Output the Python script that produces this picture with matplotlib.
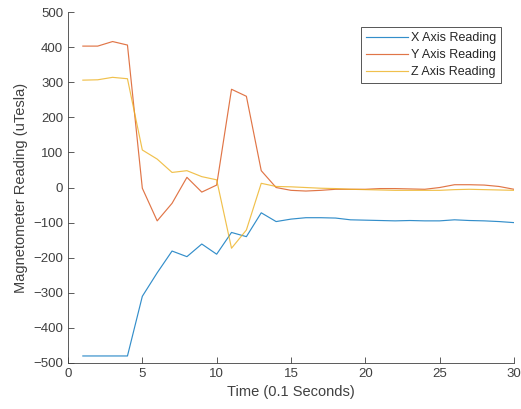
import matplotlib
matplotlib.use('Agg')
import matplotlib.pyplot as plt

plt.rcParams['font.family'] = ['Liberation Sans', 'DejaVu Sans']

# time steps (0.1 s)
t = list(range(1, 31))

x_reading = [-480, -480, -480, -480, -310, -243, -181, -197, -161, -190,
             -128, -140, -72, -97, -90, -86, -86, -87, -92, -93,
             -94, -95, -94, -95, -95, -92, -94, -95, -97, -100]
y_reading = [403, 403, 416, 406, -2, -95, -45, 29, -13, 7,
             280, 260, 48, 0, -8, -10, -8, -5, -5, -5,
             -3, -3, -4, -5, 0, 8, 8, 7, 3, -5]
z_reading = [306, 307, 314, 310, 107, 81, 43, 48, 31, 22,
             -173, -121, 12, 3, 2, 0, -2, -3, -5, -6,
             -7, -8, -8, -8, -8, -6, -5, -6, -7, -8]

fig = plt.figure(figsize=(5.21, 4.09), dpi=100)
ax = fig.add_axes([0.1305, 0.1125, 0.856, 0.858])

ax.plot(t, x_reading, color='#0072BD', lw=0.85, alpha=0.8, label='X Axis Reading')
ax.plot(t, y_reading, color='#D95319', lw=0.85, alpha=0.8, label='Y Axis Reading')
ax.plot(t, z_reading, color='#EDB120', lw=0.85, alpha=0.8, label='Z Axis Reading')

txt = '#404040'
ax.set_xlim(0, 30)
ax.set_ylim(-500, 500)
ax.set_xticks(range(0, 31, 5))
ax.set_yticks(range(-500, 501, 100))
ax.set_xlabel('Time (0.1 Seconds)', fontsize=10.5, color=txt)
ax.set_ylabel('Magnetometer Reading (uTesla)', fontsize=10.5, color=txt)

for side in ['top', 'right']:
    ax.spines[side].set_visible(False)
for side in ['left', 'bottom']:
    ax.spines[side].set_color(txt)
    ax.spines[side].set_linewidth(0.6)
ax.tick_params(direction='in', length=4, width=0.6, colors=txt, labelsize=9.5)

leg = ax.legend(loc='upper right', fontsize=9, fancybox=False, framealpha=1,
                edgecolor='#555555', handlelength=3.4, handletextpad=0.2,
                borderpad=0.4, labelspacing=0.4, bbox_to_anchor=(0.985, 0.975))
leg.get_frame().set_linewidth(0.7)
for text in leg.get_texts():
    text.set_color('#262626')

fig.savefig('out.png', dpi=100)
